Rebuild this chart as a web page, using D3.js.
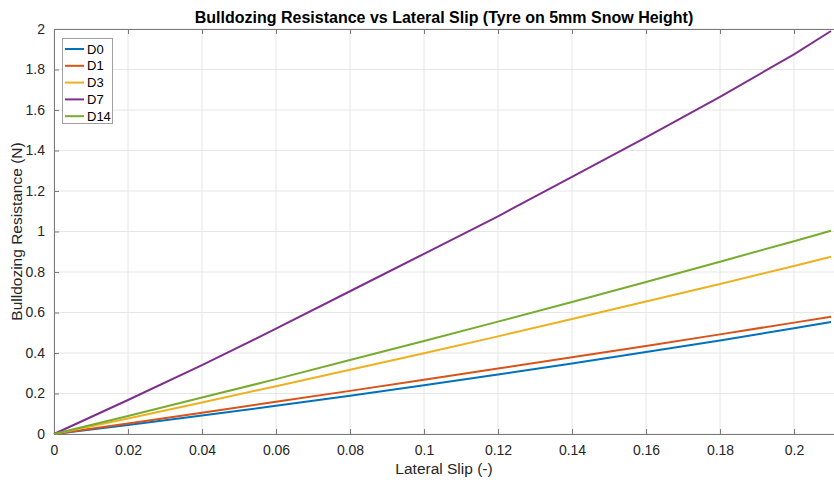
<!DOCTYPE html>
<html>
<head>
<meta charset="utf-8">
<script src="https://d3js.org/d3.v7.min.js"></script>
<style>
  body { margin: 0; background: #fff; }
  svg { font-family: "Liberation Sans", Arial, sans-serif; display: block; }
</style>
</head>
<body>
<div id="chart-container"></div>
<script>
// Lateral slip samples (-)
const slip = [0, 0.02, 0.04, 0.06, 0.08, 0.10, 0.12, 0.14, 0.16, 0.18, 0.20, 0.21];

// Bulldozing resistance (N) per snow sample
const seriesNames = ["D0", "D1", "D3", "D7", "D14"];
const resD0  = [0, 0.045, 0.091, 0.139, 0.189, 0.241, 0.294, 0.348, 0.405, 0.462, 0.522, 0.553];
const resD1  = [0, 0.052, 0.105, 0.159, 0.213, 0.268, 0.323, 0.379, 0.435, 0.492, 0.550, 0.579];
const resD3  = [0, 0.077, 0.156, 0.236, 0.317, 0.399, 0.482, 0.568, 0.654, 0.741, 0.830, 0.875];
const resD7  = [0, 0.168, 0.340, 0.520, 0.705, 0.890, 1.075, 1.270, 1.465, 1.665, 1.875, 1.990];
const resD14 = [0, 0.089, 0.180, 0.271, 0.365, 0.459, 0.555, 0.652, 0.751, 0.851, 0.952, 1.004];
const colors = ["#0072BD", "#D95319", "#EDB120", "#7E2F8E", "#77AC30"];

const xTicks = [0, 0.02, 0.04, 0.06, 0.08, 0.1, 0.12, 0.14, 0.16, 0.18, 0.2];
const yTicks = [0, 0.2, 0.4, 0.6, 0.8, 1, 1.2, 1.4, 1.6, 1.8, 2];

const width = 834, height = 484;
const plotLeft = 54, plotRight = 834, plotTop = 29, plotBottom = 434;

const xScale = d3.scaleLinear().domain([0, 780 / 3700]).range([plotLeft, plotRight]);
const yScale = d3.scaleLinear().domain([0, 2]).range([plotBottom, plotTop]);

const svg = d3.select("#chart-container").append("svg")
  .attr("width", width).attr("height", height);

// grid
svg.append("g").selectAll("line").data(xTicks).enter().append("line")
  .attr("x1", d => xScale(d)).attr("x2", d => xScale(d))
  .attr("y1", plotTop).attr("y2", plotBottom)
  .attr("stroke", "#e6e6e6").attr("stroke-width", 1);
svg.append("g").selectAll("line").data(yTicks).enter().append("line")
  .attr("x1", plotLeft).attr("x2", plotRight)
  .attr("y1", d => yScale(d)).attr("y2", d => yScale(d))
  .attr("stroke", "#e6e6e6").attr("stroke-width", 1);

// axes
const fmt = d => String(+d.toFixed(2));
svg.append("g").attr("transform", `translate(0,${plotBottom})`)
  .call(d3.axisBottom(xScale).tickValues(xTicks).tickFormat(fmt).tickSizeInner(-5).tickSizeOuter(0).tickPadding(11));
svg.append("g").attr("transform", `translate(${plotLeft},0)`)
  .call(d3.axisLeft(yScale).tickValues(yTicks).tickFormat(fmt).tickSizeInner(-5).tickSizeOuter(0).tickPadding(9));
// top box line with ticks
svg.append("g").attr("transform", `translate(0,${plotTop})`)
  .call(d3.axisTop(xScale).tickValues(xTicks).tickFormat("").tickSizeInner(-5).tickSizeOuter(0));

svg.selectAll(".domain").attr("stroke", "#7a7a7a");
svg.selectAll(".tick line").attr("stroke", "#7a7a7a");
svg.selectAll(".tick text").attr("fill", "#262626").style("font-size", "14px");

// lines
const allSeries = [resD0, resD1, resD3, resD7, resD14];
const line = d3.line().x((d, i) => xScale(slip[i])).y(d => yScale(d));
svg.append("g").selectAll("path").data(allSeries).enter().append("path")
  .attr("d", d => line(d))
  .attr("fill", "none")
  .attr("stroke", (d, i) => colors[i])
  .attr("stroke-width", 2);

// title & labels
svg.append("text").attr("x", (plotLeft + plotRight) / 2).attr("y", 23)
  .attr("text-anchor", "middle").attr("font-weight", "bold")
  .style("font-size", "16px").attr("fill", "#000")
  .text("Bulldozing Resistance vs Lateral Slip (Tyre on 5mm Snow Height)");
svg.append("text").attr("x", (plotLeft + plotRight) / 2).attr("y", 474)
  .attr("text-anchor", "middle").style("font-size", "15.5px").attr("fill", "#262626")
  .text("Lateral Slip (-)");
svg.append("text").attr("transform", `translate(22,${(plotTop + plotBottom) / 2}) rotate(-90)`)
  .attr("text-anchor", "middle").style("font-size", "15.5px").attr("fill", "#262626")
  .text("Bulldozing Resistance (N)");

// legend
const legend = svg.append("g");
legend.append("rect").attr("x", 62.5).attr("y", 38.5).attr("width", 50).attr("height", 85)
  .attr("fill", "#fff").attr("stroke", "#a0a0a0").attr("stroke-width", 1);
seriesNames.forEach((name, i) => {
  const y = 49 + i * 16.8;
  legend.append("line").attr("x1", 65).attr("x2", 84).attr("y1", y).attr("y2", y)
    .attr("stroke", colors[i]).attr("stroke-width", 2);
  legend.append("text").attr("x", 87).attr("y", y + 4.5)
    .style("font-size", "13px").attr("fill", "#000").text(name);
});
</script>
</body>
</html>
